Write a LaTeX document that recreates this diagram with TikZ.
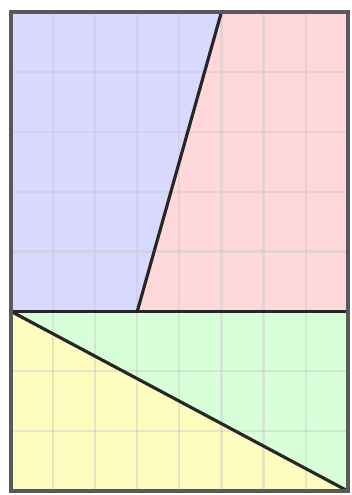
\documentclass[tikz,border=0pt]{standalone}
\usepackage{tikz}
\usetikzlibrary{calc}

\begin{document}
\begin{tikzpicture}[
  x=0.703cm, y=1cm,
  gridline/.style={draw=gray!45, line width=1pt, opacity=0.4},
  cut/.style={draw=black!85, line width=1.5pt},
  frame/.style={draw=black!65, line width=1.8pt},
]
\useasboundingbox (-0.261,-0.067) rectangle (8.095,8.2);
% the four parts
\fill[blue!15]   (0,3) -- (3,3) -- (5,8) -- (0,8) -- cycle;
\fill[red!15]    (3,3) -- (8,3) -- (8,8) -- (5,8) -- cycle;
\fill[green!15]  (0,3) -- (8,3) -- (8,0) -- cycle;
\fill[yellow!25] (0,3) -- (8,0) -- (0,0) -- cycle;
% grid
\foreach \i in {1,...,7} {
  \draw[gridline] (\i,0) -- (\i,8);
  \draw[gridline] (0,\i) -- (8,\i);
}
% cuts
\draw[cut] (0,3) -- (8,3);
\draw[cut] (5,8) -- (3,3);
\draw[cut] (0,3) -- (8,0);
\draw[frame] (0,0) rectangle (8,8);
\end{tikzpicture}
\end{document}
